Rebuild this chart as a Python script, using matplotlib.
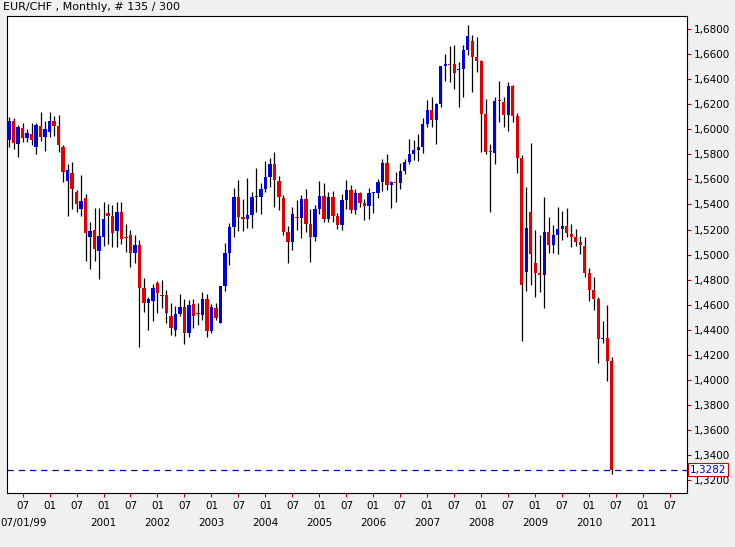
import matplotlib
matplotlib.use("Agg")
import matplotlib.pyplot as plt

# EUR/CHF monthly, Apr 1999 .. Jun 2010
opens = [1.5914, 1.6066, 1.5880, 1.6012, 1.5927, 1.5962, 1.5861, 1.6026, 1.5941, 1.5980, 1.6066, 1.6028, 1.5861,
         1.5590, 1.5653, 1.5502, 1.5363, 1.5449, 1.5142, 1.5196, 1.5031, 1.5137, 1.5334, 1.5308, 1.5190, 1.5340,
         1.5137, 1.5156, 1.5010, 1.5076, 1.4730, 1.4616, 1.4632, 1.4775, 1.4674, 1.4677, 1.4510, 1.4398, 1.4526,
         1.4584, 1.4376, 1.4605, 1.4528, 1.4520, 1.4645, 1.4392, 1.4571, 1.4456, 1.4751, 1.5015, 1.5223, 1.5456,
         1.5302, 1.5284, 1.5316, 1.5457, 1.5459, 1.5520, 1.5616, 1.5723, 1.5590, 1.5449, 1.5177, 1.5103, 1.5295,
         1.5292, 1.5441, 1.5244, 1.5138, 1.5361, 1.5467, 1.5281, 1.5457, 1.5308, 1.5236, 1.5435, 1.5515, 1.5356,
         1.5494, 1.5414, 1.5390, 1.5488, 1.5488, 1.5582, 1.5728, 1.5555, 1.5577, 1.5575, 1.5667, 1.5736, 1.5800,
         1.5834, 1.5861, 1.6042, 1.6154, 1.6074, 1.6202, 1.6505, 1.6518, 1.6518, 1.6473, 1.6478, 1.6632, 1.6704,
         1.6574, 1.6545, 1.6122, 1.5823, 1.5813, 1.6227, 1.6215, 1.6114, 1.6345, 1.6106, 1.5768, 1.4863, 1.5342,
         1.4930, 1.4850, 1.4837, 1.5177, 1.5076, 1.5156, 1.5201, 1.5230, 1.5161, 1.5143, 1.5097, 1.5071, 1.4850,
         1.4717, 1.4643, 1.4329, 1.4331, 1.4153]
closes = [1.6066, 1.5888, 1.6020, 1.5933, 1.5973, 1.5914, 1.6034, 1.5941, 1.6002, 1.6066, 1.6028, 1.5874, 1.5661,
          1.5675, 1.5526, 1.5400, 1.5427, 1.5169, 1.5188, 1.5044, 1.5148, 1.5284, 1.5308, 1.5174, 1.5340, 1.5124,
          1.5134, 1.5010, 1.5076, 1.4730, 1.4616, 1.4645, 1.4730, 1.4696, 1.4670, 1.4531, 1.4411, 1.4526, 1.4579,
          1.4371, 1.4597, 1.4512, 1.4525, 1.4645, 1.4392, 1.4584, 1.4496, 1.4751, 1.5010, 1.5217, 1.5456, 1.5302,
          1.5284, 1.5316, 1.5457, 1.5459, 1.5520, 1.5616, 1.5723, 1.5595, 1.5457, 1.5183, 1.5103, 1.5321, 1.5292,
          1.5441, 1.5244, 1.5138, 1.5361, 1.5467, 1.5281, 1.5457, 1.5308, 1.5236, 1.5435, 1.5515, 1.5356, 1.5494,
          1.5414, 1.5390, 1.5488, 1.5490, 1.5582, 1.5728, 1.5555, 1.5582, 1.5575, 1.5667, 1.5736, 1.5800, 1.5834,
          1.5861, 1.6042, 1.6154, 1.6074, 1.6202, 1.6505, 1.6521, 1.6516, 1.6446, 1.6475, 1.6632, 1.6744, 1.6579,
          1.6547, 1.6122, 1.5821, 1.5821, 1.6225, 1.6225, 1.6114, 1.6345, 1.6106, 1.5768, 1.4757, 1.5209, 1.5004,
          1.4855, 1.4837, 1.5183, 1.5076, 1.5156, 1.5201, 1.5230, 1.5169, 1.5143, 1.5097, 1.5076, 1.4855, 1.4717,
          1.4643, 1.4323, 1.4331, 1.4153, 1.3281]
highs = [1.6100, 1.6092, 1.6034, 1.6047, 1.6002, 1.6047, 1.6052, 1.6135, 1.6066, 1.6135, 1.6106, 1.6114, 1.5876,
         1.5723, 1.5741, 1.5515, 1.5635, 1.5481, 1.5257, 1.5374, 1.5374, 1.5422, 1.5401, 1.5395, 1.5422, 1.5422,
         1.5244, 1.5196, 1.5156, 1.5116, 1.4810, 1.4664, 1.4765, 1.4789, 1.4797, 1.4717, 1.4611, 1.4589, 1.4685,
         1.4642, 1.4637, 1.4642, 1.4611, 1.4704, 1.4685, 1.4605, 1.4611, 1.4751, 1.5095, 1.5254, 1.5528, 1.5595,
         1.5443, 1.5608, 1.5502, 1.5688, 1.5568, 1.5746, 1.5768, 1.5816, 1.5627, 1.5475, 1.5228, 1.5377, 1.5436,
         1.5475, 1.5520, 1.5361, 1.5396, 1.5587, 1.5568, 1.5502, 1.5510, 1.5329, 1.5483, 1.5595, 1.5555, 1.5523,
         1.5502, 1.5441, 1.5528, 1.5502, 1.5600, 1.5760, 1.5800, 1.5587, 1.5662, 1.5728, 1.5760, 1.5920, 1.5914,
         1.5962, 1.6087, 1.6234, 1.6255, 1.6213, 1.6505, 1.6600, 1.6664, 1.6672, 1.6539, 1.6672, 1.6832, 1.6752,
         1.6739, 1.6553, 1.6239, 1.5882, 1.6255, 1.6385, 1.6255, 1.6380, 1.6353, 1.6127, 1.5794, 1.5536, 1.5893,
         1.5196, 1.5156, 1.5456, 1.5297, 1.5236, 1.5382, 1.5350, 1.5369, 1.5241, 1.5204, 1.5148, 1.5143, 1.4890,
         1.4818, 1.4664, 1.4472, 1.4597, 1.4180]
lows = [1.5861, 1.5840, 1.5776, 1.5896, 1.5896, 1.5874, 1.5800, 1.5906, 1.5829, 1.5941, 1.5949, 1.5816, 1.5582,
        1.5310, 1.5361, 1.5342, 1.5310, 1.4951, 1.4882, 1.4948, 1.4805, 1.5071, 1.5081, 1.5063, 1.5063, 1.5081,
        1.5023, 1.4903, 1.4935, 1.4265, 1.4544, 1.4398, 1.4472, 1.4531, 1.4576, 1.4456, 1.4358, 1.4350, 1.4510,
        1.4286, 1.4339, 1.4416, 1.4438, 1.4478, 1.4339, 1.4376, 1.4478, 1.4451, 1.4712, 1.4916, 1.5137, 1.5191,
        1.5190, 1.5209, 1.5209, 1.5342, 1.5324, 1.5502, 1.5542, 1.5377, 1.5356, 1.5156, 1.4935, 1.5036, 1.5196,
        1.5129, 1.5183, 1.4943, 1.5111, 1.5324, 1.5262, 1.5262, 1.5262, 1.5201, 1.5196, 1.5361, 1.5334, 1.5321,
        1.5380, 1.5276, 1.5281, 1.5334, 1.5449, 1.5510, 1.5515, 1.5374, 1.5422, 1.5521, 1.5643, 1.5723, 1.5755,
        1.5749, 1.5808, 1.6015, 1.6015, 1.5882, 1.6175, 1.6388, 1.6380, 1.6319, 1.6180, 1.6260, 1.6592, 1.6300,
        1.6459, 1.5821, 1.5802, 1.5337, 1.5723, 1.6060, 1.6015, 1.5989, 1.6060, 1.5653, 1.4313, 1.4709, 1.4757,
        1.4659, 1.4704, 1.4571, 1.5010, 1.5010, 1.5004, 1.5116, 1.5143, 1.5063, 1.5071, 1.5004, 1.4818, 1.4632,
        1.4557, 1.4137, 1.4291, 1.3993, 1.3249]
last_price = 1.3282
price_ticks = [1.32 + 0.02 * k for k in range(19)]
first_month = (1999, 4)

fig = plt.figure(figsize=(7.35, 5.47), dpi=100, facecolor="#f0f0f0")
ax = fig.add_axes([7 / 735, 1 - 493 / 547, 680 / 735, 477 / 547])
ax.set_facecolor("white")

for i, (o, h, l, c) in enumerate(zip(opens, highs, lows, closes)):
    col = "#0000e0" if c >= o else "#e00000"
    ax.vlines(i, l, h, color="black", linewidth=0.9, zorder=2)
    body = max(abs(c - o), 0.0008)
    ax.bar(i, body, bottom=min(o, c), width=0.7, color=col, linewidth=0, zorder=3)

ax.axhline(last_price, color="#0000c0", linestyle=(0, (5, 4)), linewidth=0.9, zorder=1)

ax.set_xlim(-0.45, 150.7)
ax.set_ylim(1.3097, 1.6904)

ax.yaxis.tick_right()
ax.set_yticks(price_ticks)
ax.set_yticklabels([f"{p:.4f}".replace(".", ",") for p in price_ticks], fontsize=7.5)
ax.tick_params(axis="y", colors="#cc0000", length=3, labelcolor="black", pad=2)

# month ticks every 6 months: Jul 1999 .. Jul 2011
xt, xl = [], []
y0, m0 = first_month
for idx in range(0, 151):
    yy = y0 + (m0 - 1 + idx) // 12
    mm = (m0 - 1 + idx) % 12 + 1
    if mm in (1, 7):
        xt.append(idx)
        xl.append(f"{mm:02d}")
        if mm == 1 and yy > 2000:
            ax.text(idx, -0.052, str(yy), transform=ax.get_xaxis_transform(),
                    ha="center", va="top", fontsize=7.5)
ax.set_xticks(xt)
ax.set_xticklabels(xl, fontsize=7.5)
ax.tick_params(axis="x", colors="#cc0000", length=3, labelcolor="black", pad=3)
ax.text(-0.01, -0.052, "07/01/99", transform=ax.transAxes, ha="left", va="top", fontsize=7.5)

for s in ax.spines.values():
    s.set_color("black")
    s.set_linewidth(0.8)

ax.text(1.004, last_price, "1,3282", transform=ax.get_yaxis_transform(), ha="left", va="center",
        fontsize=7.5, color="#0000c0",
        bbox=dict(boxstyle="square,pad=0.15", facecolor="white", edgecolor="#cc0000", linewidth=0.8))

fig.text(3 / 735, 1 - 7 / 547, "EUR/CHF , Monthly, # 135 / 300", ha="left", va="center", fontsize=8)

fig.savefig("out.png", dpi=100, facecolor=fig.get_facecolor())
